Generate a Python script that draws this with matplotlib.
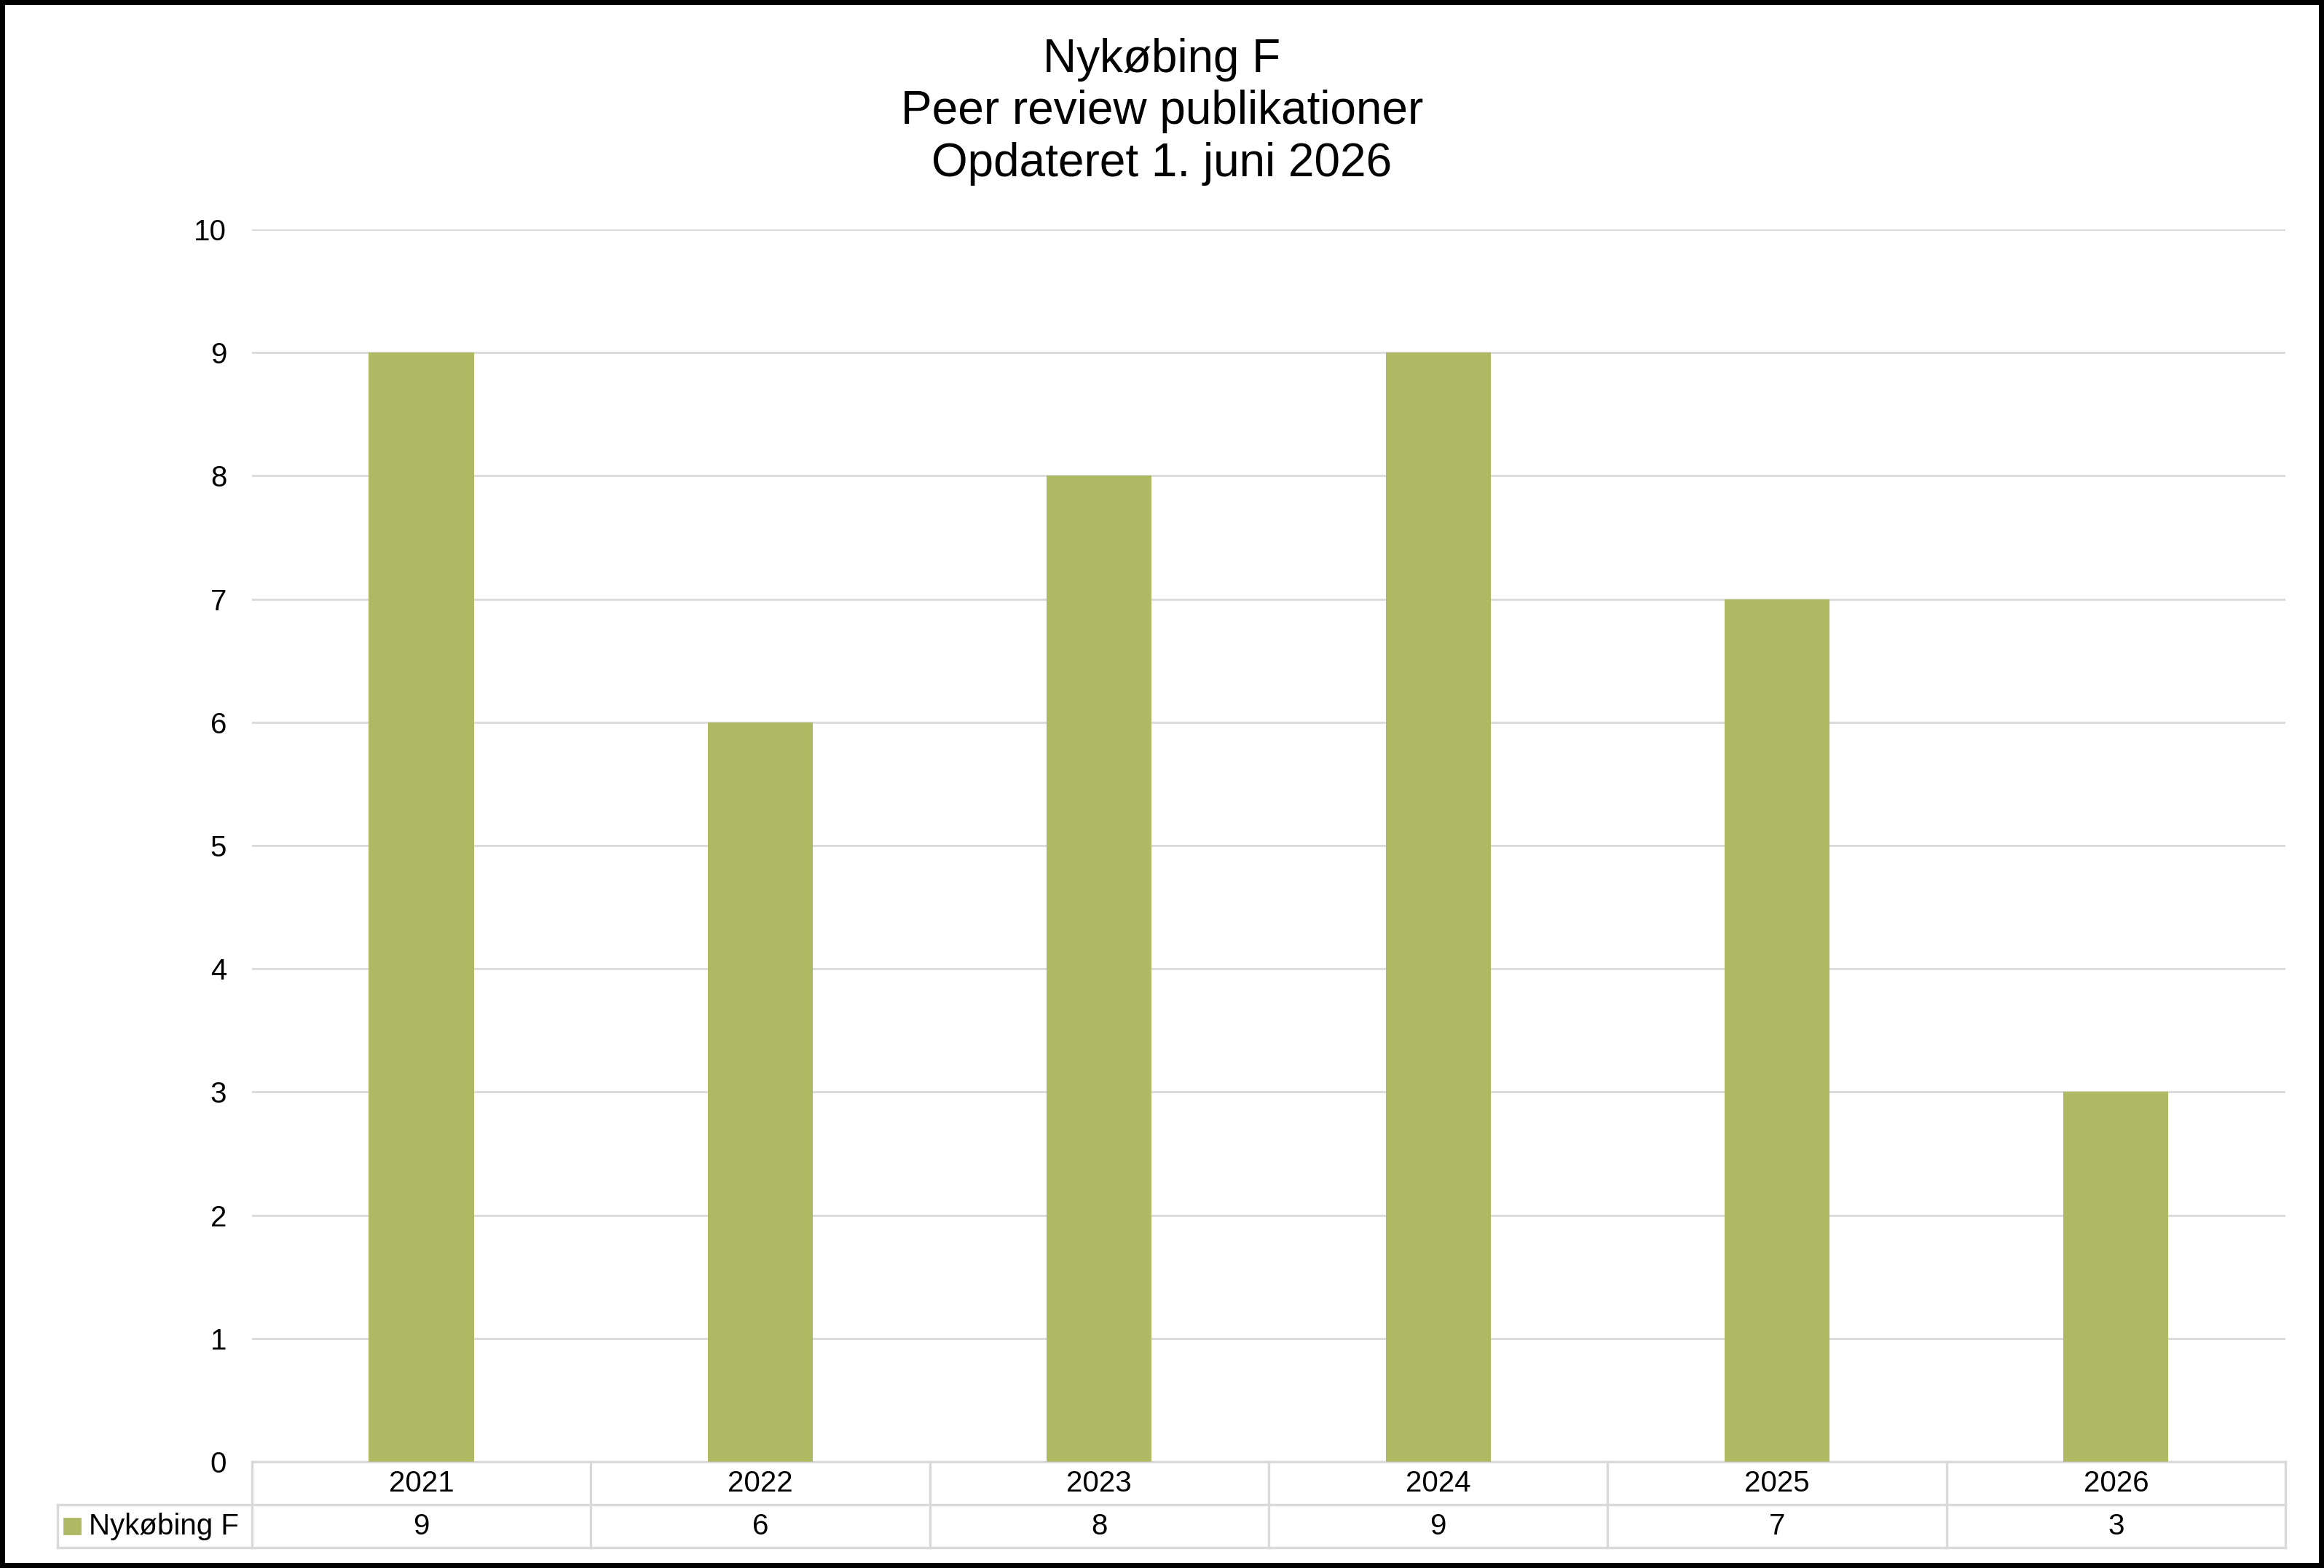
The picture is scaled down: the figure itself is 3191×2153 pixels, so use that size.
#!/usr/bin/env python3

import matplotlib.pyplot as plt
import matplotlib.transforms as mtransforms
from matplotlib.patches import Rectangle

plt.rcParams["font.family"] = ["Liberation Sans", "DejaVu Sans"]

# Data
years = ["2021", "2022", "2023", "2024", "2025", "2026"]
counts = [9, 6, 8, 9, 7, 3]
series_name = "Nykøbing F"
title_lines = ["Nykøbing F", "Peer review publikationer", "Opdateret 1. juni 2026"]

bar_color = "#AFB964"
grid_color = "#D9D9D9"

fig = plt.figure(figsize=(15.955, 10.765), dpi=200)
ax = fig.add_axes([0.1084, 0.0678, 0.875, 0.7859])

x = list(range(len(years)))
ax.bar(x, counts, width=0.31, color=bar_color, zorder=3)

ax.set_xlim(-0.5, len(years) - 0.5)
ax.set_ylim(0, 10)
ax.set_yticks(range(0, 11))
ax.tick_params(axis="y", length=0, labelsize=14.5, pad=12.5)
ax.set_xticks([])
ax.yaxis.grid(True, color=grid_color, linewidth=1.0, zorder=0)
for s in ax.spines.values():
    s.set_visible(False)

fig.suptitle("\n".join(title_lines), fontsize=23, y=0.976, linespacing=1.25)

# data table under the plot
row_h = 0.0349
legend_left = -0.0956 * len(years)  # in data units relative to axis width
trans = mtransforms.blended_transform_factory(ax.transData, ax.transAxes)
x0, x1 = -0.5, len(years) - 0.5
lx = x0 + legend_left
lc = dict(color=grid_color, linewidth=1.2, clip_on=False, transform=trans)

ax.plot([x0, x1], [0, 0], **lc)
ax.plot([lx, x1], [-row_h, -row_h], **lc)
ax.plot([lx, x1], [-2 * row_h, -2 * row_h], **lc)
ax.plot([lx, lx], [-row_h, -2 * row_h], **lc)
for i in range(len(years) + 1):
    ax.plot([i - 0.5, i - 0.5], [0, -2 * row_h], **lc)

for i, (yr, c) in enumerate(zip(years, counts)):
    ax.text(i, -row_h / 2, yr, ha="center", va="center", fontsize=14.5,
            transform=trans)
    ax.text(i, -1.5 * row_h, str(c), ha="center", va="center", fontsize=14.5,
            transform=trans)

sq_h = 0.0124
ax.add_patch(Rectangle((lx + 0.02, -1.5 * row_h - sq_h / 2), 0.046, sq_h,
                       transform=trans, color=bar_color, clip_on=False))
ax.text(lx + 0.092, -1.5 * row_h, series_name, ha="left", va="center",
        fontsize=14.5, transform=trans)

# outer black frame
fig.patches.append(Rectangle((0, 0), 1, 1, transform=fig.transFigure,
                             fill=False, edgecolor="black", linewidth=5))

fig.savefig("out.png", dpi=200, facecolor="white")
